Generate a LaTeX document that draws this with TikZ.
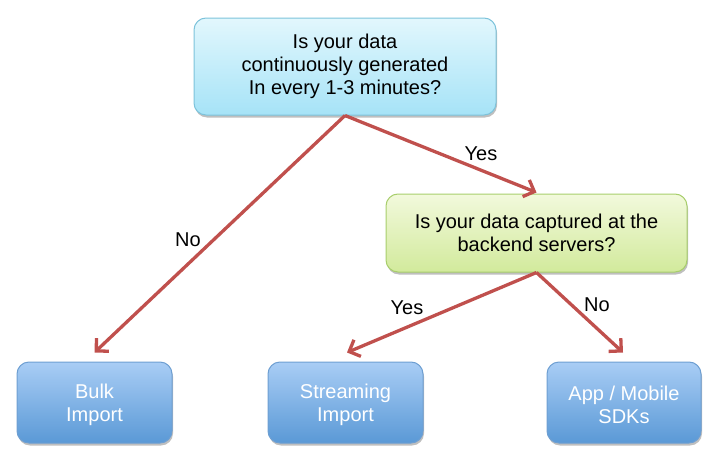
\documentclass[tikz,border=0pt]{standalone}
\usepackage{fontspec}
\setmainfont{Liberation Sans}
\usetikzlibrary{arrows.meta,shadows}
\definecolor{arrowred}{HTML}{C0504D}
\definecolor{cyantop}{HTML}{E2F7FD}
\definecolor{cyanbot}{HTML}{A6E3F7}
\definecolor{cyanline}{HTML}{7DC3DB}
\definecolor{greentop}{HTML}{F2F9DC}
\definecolor{greenbot}{HTML}{D2EA9C}
\definecolor{greenline}{HTML}{A8CE6C}
\definecolor{bluetop}{HTML}{A9CDF5}
\definecolor{bluebot}{HTML}{5A99D6}
\definecolor{blueline}{HTML}{6E9FD2}
\tikzset{
  box/.style={rounded corners=12pt, line width=1pt, align=center,
    font=\fontsize{20}{23}\selectfont, inner sep=0pt,
    drop shadow={shadow xshift=1pt, shadow yshift=-2.5pt, opacity=0.25, fill=black}},
  qcyan/.style={box, draw=cyanline, top color=cyantop, bottom color=cyanbot, text=black},
  qgreen/.style={box, draw=greenline, top color=greentop, bottom color=greenbot, text=black},
  result/.style={box, draw=blueline, top color=bluetop, bottom color=bluebot, text=white,
    minimum width=155pt, minimum height=81pt, text height=42pt},
  link/.style={draw=arrowred, line width=3.3pt, -{Straight Barb[length=9pt,width=18pt,line width=3.3pt]}},
  lbl/.style={font=\fontsize{20}{23}\selectfont, inner sep=0pt}
}
\begin{document}
\begin{tikzpicture}[x=1pt,y=1pt]
\useasboundingbox (0,0) rectangle (724,-466);
\node[qcyan, minimum width=302pt, minimum height=97pt] (q1) at (345,-66.5)
  {Is your data\\continuously generated\\In every 1-3 minutes?};
\node[qgreen, minimum width=301pt, minimum height=78pt] (q2) at (536.5,-233)
  {Is your data captured at the\\backend servers?};
\node[result] (bulk) at (94.5,-402.5) {Bulk\\Import};
\node[result] (stream) at (345.5,-402.5) {Streaming\\Import};
\node[result, minimum width=154pt] (app) at (624,-402.5) {App / Mobile\\SDKs};
\draw[link] (q1.south) -- ([yshift=9pt]bulk.north);
\draw[link] (q1.south) -- ([yshift=1pt]q2.north);
\draw[link] (q2.south) -- ([xshift=1.5pt,yshift=9pt]stream.north);
\draw[link] (q2.south) -- ([xshift=-1pt,yshift=9pt]app.north);
\node[lbl] (no1) at (188,-240) {No};
\node[lbl] (yes1) at (481,-154) {Yes};
\node[lbl] (yes2) at (407,-308) {Yes};
\node[lbl] (no2) at (597,-305) {No};
\end{tikzpicture}
\end{document}
